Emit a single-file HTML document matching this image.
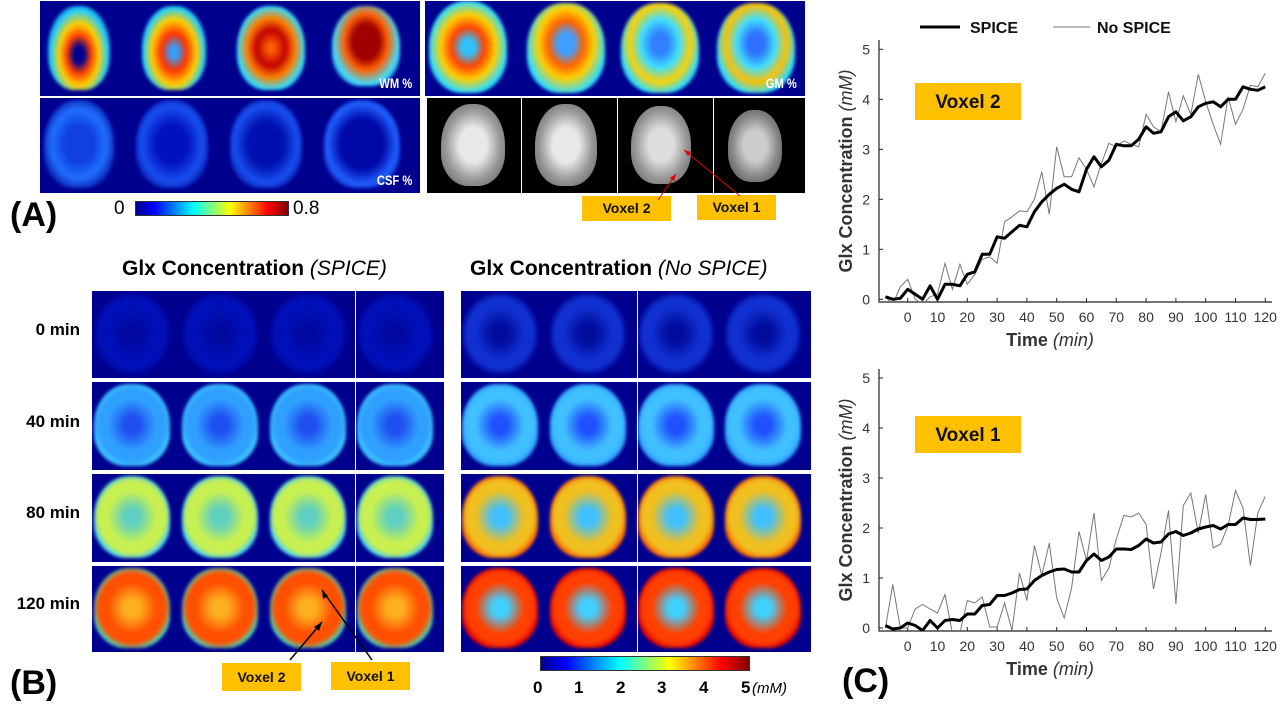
<!DOCTYPE html>
<html><head><meta charset="utf-8">
<style>
body{margin:0;width:1285px;height:709px;background:#fff;position:relative;overflow:hidden;font-family:"Liberation Sans",sans-serif}
.abs{position:absolute}
.panel{position:absolute;background:#00008f;overflow:hidden}
.brain{position:absolute;border-radius:46% 46% 42% 42%/50% 50% 40% 40%;filter:blur(1.5px)}
.lbl{position:absolute;color:#fff;font-weight:bold;font-size:14px;transform:scaleX(.8);transform-origin:right}
.vbox{position:absolute;background:#ffc000;font-weight:bold;font-size:15px;text-align:center;color:#111}
.big{position:absolute;font-weight:bold;font-size:34px}
.row{position:absolute;font-weight:bold;font-size:17px;text-align:right;width:70px}
.sep{position:absolute;background:#fff;width:1px}
</style></head><body>
<!-- Panel A -->
<div class="panel" style="left:40px;top:1px;width:380px;height:95px">
 <div class="brain" style="left:8px;top:5px;width:62px;height:84px;background:radial-gradient(ellipse at 50% 58%,#00008f 12%,#ff4000 28%,#ffd000 45%,#20d0ff 65%,#00008f 88%)"></div>
 <div class="brain" style="left:102px;top:5px;width:64px;height:84px;background:radial-gradient(ellipse at 50% 55%,#30a0ff 8%,#ff3000 28%,#ffd000 50%,#20d0ff 68%,#00008f 90%)"></div>
 <div class="brain" style="left:197px;top:5px;width:68px;height:84px;background:radial-gradient(ellipse at 50% 50%,#ff6000 6%,#c00000 30%,#ff8000 50%,#30e0ff 70%,#00008f 92%)"></div>
 <div class="brain" style="left:292px;top:5px;width:68px;height:80px;background:radial-gradient(ellipse at 50% 45%,#a00000 28%,#ff6000 45%,#40e0ff 68%,#00008f 92%)"></div>
 <div class="lbl" style="right:8px;top:74px">WM %</div>
</div>
<div class="panel" style="left:425px;top:1px;width:380px;height:95px">
 <div class="brain" style="left:4px;top:0;width:78px;height:92px;background:radial-gradient(ellipse at 50% 50%,#30c0ff 12%,#ff4000 30%,#ffd000 50%,#30e0ff 70%,#00008f 92%)"></div>
 <div class="brain" style="left:102px;top:2px;width:78px;height:90px;background:radial-gradient(ellipse at 50% 45%,#40a0ff 15%,#ff6000 32%,#ffd000 50%,#30e0ff 72%,#00008f 94%)"></div>
 <div class="brain" style="left:196px;top:2px;width:78px;height:90px;background:radial-gradient(ellipse at 50% 45%,#3080ff 15%,#40e0ff 35%,#ffd000 55%,#30e0ff 72%,#00008f 94%)"></div>
 <div class="brain" style="left:292px;top:2px;width:78px;height:90px;background:radial-gradient(ellipse at 50% 45%,#3070ff 15%,#40e0ff 35%,#ffc000 55%,#30e0ff 72%,#00008f 94%)"></div>
 <div class="lbl" style="right:8px;top:74px">GM %</div>
</div>
<div class="panel" style="left:40px;top:98px;width:380px;height:95px">
 <div class="brain" style="left:4px;top:2px;width:70px;height:88px;background:radial-gradient(ellipse at 50% 50%,#1040e0 30%,#2070ff 55%,#00008f 85%)"></div>
 <div class="brain" style="left:96px;top:2px;width:72px;height:88px;background:radial-gradient(ellipse at 50% 50%,#0010c0 30%,#1850f0 60%,#00008f 88%)"></div>
 <div class="brain" style="left:190px;top:2px;width:72px;height:88px;background:radial-gradient(ellipse at 50% 50%,#0010b0 35%,#1850f0 62%,#00008f 88%)"></div>
 <div class="brain" style="left:284px;top:2px;width:76px;height:88px;background:radial-gradient(ellipse at 50% 50%,#0008a8 40%,#2060ff 65%,#00008f 88%)"></div>
 <div class="lbl" style="right:8px;top:74px">CSF %</div>
</div>
<div class="abs" style="left:427px;top:98px;width:378px;height:95px;background:#000">
 <div class="brain" style="left:14px;top:6px;width:64px;height:82px;background:radial-gradient(ellipse,#e8e8e8 30%,#999 60%,#777 80%);filter:none"></div>
 <div class="brain" style="left:108px;top:6px;width:62px;height:82px;background:radial-gradient(ellipse,#e8e8e8 30%,#999 60%,#777 80%);filter:none"></div>
 <div class="brain" style="left:204px;top:8px;width:60px;height:78px;background:radial-gradient(ellipse,#ddd 30%,#999 60%,#777 80%);filter:none"></div>
 <div class="brain" style="left:301px;top:12px;width:54px;height:72px;background:radial-gradient(ellipse,#ccc 30%,#888 60%,#666 80%);filter:none"></div>
 <div class="sep" style="left:94px;top:0;height:95px"></div>
 <div class="sep" style="left:190px;top:0;height:95px"></div>
 <div class="sep" style="left:286px;top:0;height:95px"></div>
</div>
<div class="abs" style="left:135px;top:201px;width:152px;height:13px;border:1px solid #333;background:linear-gradient(90deg,#00008f,#0000ff 12%,#00ffff 38%,#ffff00 62%,#ff0000 87%,#800000)"></div>
<div class="abs" style="left:114px;top:198px;font-size:19px">0</div>
<div class="abs" style="left:293px;top:198px;font-size:19px">0.8</div>
<div class="big" style="left:10px;top:196px">(A)</div>
<div class="vbox" style="left:582px;top:196px;width:89px;height:25px;line-height:25px;font-size:14px">Voxel 2</div>
<div class="vbox" style="left:697px;top:195px;width:79px;height:25px;line-height:25px;font-size:14px">Voxel 1</div>

<!-- Panel B -->
<div class="abs" style="left:122px;top:257px;font-size:21px;font-weight:bold">Glx Concentration <i style="font-weight:normal">(SPICE)</i></div>
<div class="abs" style="left:470px;top:257px;font-size:21px;font-weight:bold">Glx Concentration <i style="font-weight:normal">(No SPICE)</i></div>
<div class="row" style="left:10px;top:320px">0 min</div>
<div class="row" style="left:10px;top:412px">40 min</div>
<div class="row" style="left:10px;top:503px">80 min</div>
<div class="row" style="left:10px;top:594px">120 min</div>
<div id="gridB"></div>
<div class="abs" style="left:540px;top:656px;width:208px;height:13px;border:1px solid #333;background:linear-gradient(90deg,#00008f,#0000ff 12%,#00ffff 38%,#ffff00 62%,#ff0000 87%,#800000)"></div>
<div class="abs" style="left:533px;top:678px;font-size:17px;font-weight:bold;width:260px">
 <span class="abs" style="left:0">0</span><span class="abs" style="left:41px">1</span><span class="abs" style="left:83px">2</span><span class="abs" style="left:124px">3</span><span class="abs" style="left:166px">4</span><span class="abs" style="left:208px">5</span><span class="abs" style="left:219px;font-weight:normal;font-style:italic;font-size:15px;top:2px">(mM)</span>
</div>
<div class="big" style="left:10px;top:664px">(B)</div>
<div class="vbox" style="left:222px;top:663px;width:79px;height:28px;line-height:28px;font-size:14px">Voxel 2</div>
<div class="vbox" style="left:331px;top:662px;width:79px;height:28px;line-height:28px;font-size:14px">Voxel 1</div>

<!-- Panel C -->
<svg id="chart" class="abs" style="left:0;top:0" width="1285" height="709"></svg>
<div class="big" style="left:842px;top:662px">(C)</div>
<svg class="abs" style="left:0;top:0" width="820" height="709">
 <line x1="658" y1="200" x2="676" y2="174" stroke="#e00000" stroke-width="1"/>
 <polygon points="676,174 670,178 674,181" fill="#e00000"/>
 <line x1="740" y1="196" x2="684" y2="150" stroke="#e00000" stroke-width="1"/>
 <polygon points="684,150 688,156 691,152" fill="#e00000"/>
 <line x1="290" y1="660" x2="322" y2="622" stroke="#000" stroke-width="1.5"/>
 <polygon points="322,622 314,627 319,631" fill="#000"/>
 <line x1="372" y1="660" x2="322" y2="590" stroke="#000" stroke-width="1.5"/>
 <polygon points="322,590 323,599 328,596" fill="#000"/>
</svg>

<script>
// Panel B grid
const rowsY=[291,382,474,566];
const rowH=[87,88,88,86];
const rowFill=[
 ['#0008a0','#0010b8','#00008f'],
 ['#2050f0','#30a0ff','#40d0ff'],
 ['#60d0c0','#c8f050','#40d0ff'],
 ['#ffb020','#ff5000','#40e0c0']];
const rowFillN=[
 ['#000c9c','#1030d0','#00008f'],
 ['#2050ff','#40c0ff','#30a0ff'],
 ['#40c0ff','#f0c020','#ff6000'],
 ['#40d0ff','#ff4000','#e00000']];
const gridB=document.getElementById('gridB');
function mkPanel(left,w,r,fills,sepX,nm){
 const p=document.createElement('div');
 p.className='panel';
 
 
 p.style.cssText=`left:${left}px;top:${rowsY[r]}px;width:${w}px;height:${rowH[r]}px`;
 const cx=nm.startsWith('spice')?[40,128,216,303]:[39,127,215,302];
 cx.forEach((c,i)=>{
  const b=document.createElement('div');
  b.className='brain';
  const f=fills[r];
  b.style.cssText=`left:${c-38}px;top:2px;width:76px;height:${rowH[r]-6}px;background:radial-gradient(ellipse at 50% 50%,${f[0]} 15%,${f[1]} 45%,${r==0?f[1]:f[1]} 62%,${f[2]} 74%,#00008f 80%);`;
  p.appendChild(b);
 });
 const s=document.createElement('div');s.className='sep';s.style.cssText=`left:${sepX}px;top:0;height:${rowH[r]}px`;p.appendChild(s);
 gridB.appendChild(p);
}
for(let r=0;r<4;r++){mkPanel(92,352,r,rowFill,263,'spice-row-'+r);mkPanel(461,350,r,rowFillN,176,'nospice-row-'+r);}

// Chart data
const times=[-7.5,-5,-2.5,0,2.5,5,7.5,10,12.5,15,17.5,20,22.5,25,27.5,30,32.5,35,37.5,40,42.5,45,47.5,50,52.5,55,57.5,60,62.5,65,67.5,70,72.5,75,77.5,80,82.5,85,87.5,90,92.5,95,97.5,100,102.5,105,107.5,110,112.5,115,117.5,120];
const v2Spice=[0.05,0,0.02,0.2,0.1,0,0.27,0,0.3,0.3,0.27,0.5,0.55,0.9,0.9,1.25,1.22,1.35,1.48,1.45,1.75,1.95,2.1,2.22,2.3,2.2,2.15,2.6,2.85,2.65,2.78,3.1,3.07,3.07,3.2,3.45,3.32,3.35,3.65,3.75,3.57,3.65,3.85,3.92,3.95,3.85,4.0,4.0,4.25,4.2,4.18,4.25];
const v2NoSpice=[0.05,-0.1,0.25,0.4,0,-0.1,0.05,0.1,0.72,0.2,0.7,0.3,0.5,0.8,0.85,0.72,1.55,1.65,1.77,1.75,2.0,2.55,1.7,3.05,2.45,2.45,2.83,2.6,2.25,2.72,3.12,3.05,3.17,3.1,3.05,3.7,3.45,3.35,4.15,3.55,4.07,3.7,4.5,3.95,3.5,3.1,4.05,3.5,3.8,4.28,4.25,4.52];
const v1Spice=[0.05,-0.02,0,0.1,0.05,-0.05,0.15,0,0.15,0.17,0.15,0.28,0.28,0.45,0.47,0.65,0.65,0.7,0.77,0.78,0.95,1.05,1.12,1.17,1.18,1.12,1.12,1.35,1.48,1.35,1.42,1.58,1.58,1.57,1.65,1.78,1.7,1.72,1.88,1.93,1.85,1.9,1.98,2.02,2.05,1.98,2.07,2.07,2.2,2.17,2.17,2.18];
const v1NoSpice=[0,0.87,0,0,0.38,0.47,0.38,0.3,0.67,-0.1,-0.1,0.55,0.5,0.62,0.02,0.02,0.5,-0.05,1.1,0.55,1.65,1.05,1.7,0.6,0.2,0.8,1.93,1.35,2.3,0.95,1.2,1.78,2.25,2.22,2.3,2.07,0.78,1.5,2.35,0.48,2.45,2.7,1.9,2.67,1.6,1.68,2.05,2.75,2.4,1.25,2.3,2.63];
const xTicks=[0,10,20,30,40,50,60,70,80,90,100,110,120];
const yTicks=[0,1,2,3,4,5];

const svg=document.getElementById('chart');
const NS='http://www.w3.org/2000/svg';
function el(t,a,txt){const e=document.createElementNS(NS,t);for(const k in a)e.setAttribute(k,a[k]);if(txt!==undefined)e.textContent=txt;svg.appendChild(e);return e;}
function xS(t){return 907.7+t*2.98;}
function drawChart(y0,axisY,top,spice,nospice,label,boxY,nm){
 const yS=v=>y0-v*50;
 const g=document.createElementNS(NS,'clipPath');g.setAttribute('id','clip'+nm);
 const cr=document.createElementNS(NS,'rect');cr.setAttribute('x',880);cr.setAttribute('y',top);cr.setAttribute('width',395);cr.setAttribute('height',axisY-top);g.appendChild(cr);svg.appendChild(g);
 const ax=el('path',{d:`M879 ${top} V${axisY} H1272`,stroke:'#222','stroke-width':1.2,fill:'none'});
 
 
 yTicks.forEach(v=>{
  el('line',{x1:879,x2:883,y1:yS(v),y2:yS(v),stroke:'#222'});
  const t=el('text',{x:870,y:yS(v)+5,'text-anchor':'end','font-size':14,fill:'#333'},v);
  
  
 });
 xTicks.forEach(v=>{
  el('line',{x1:xS(v),x2:xS(v),y1:axisY,y2:axisY-4,stroke:'#222'});
  const t=el('text',{x:xS(v),y:axisY+20,'text-anchor':'middle','font-size':14,fill:'#333'},v);
  
  
 });
 const pts=a=>a.map((v,i)=>xS(times[i]).toFixed(1)+','+yS(v).toFixed(1)).join(' ');
 const l2=el('polyline',{points:pts(nospice),fill:'none',stroke:'#777','stroke-width':1,'clip-path':`url(#clip${nm})`});
 
 
 const l1=el('polyline',{points:pts(spice),fill:'none',stroke:'#000','stroke-width':3,'stroke-linejoin':'round','clip-path':`url(#clip${nm})`});
 
 
 const xt=el('text',{x:1050,y:axisY+44,'text-anchor':'middle','font-size':18,'font-weight':'bold',fill:'#333'});
 xt.innerHTML='Time <tspan font-style="italic" font-weight="normal">(min)</tspan>';
 
 
 const cy=(top+axisY)/2;
 const yt=el('text',{x:0,y:0,transform:`translate(852 ${cy}) rotate(-90)`,'text-anchor':'middle','font-size':18,'font-weight':'bold',fill:'#333'});
 yt.innerHTML='Glx Concentration <tspan font-style="italic" font-weight="normal">(mM)</tspan>';
 
 
 const r=el('rect',{x:915,y:boxY,width:106,height:37,fill:'#ffc000'});
 
 
 el('text',{x:968,y:boxY+25,'text-anchor':'middle','font-size':19,'font-weight':'bold',fill:'#111'},label);
}
drawChart(299.3,302,40,v2Spice,v2NoSpice,'Voxel 2',83,'voxel2-chart');
drawChart(628,631,369,v1Spice,v1NoSpice,'Voxel 1',416,'voxel1-chart');
// legend
const lg1=el('line',{x1:920,x2:960,y1:27,y2:27,stroke:'#000','stroke-width':3});


el('text',{x:970,y:33,'font-size':16,'font-weight':'bold',fill:'#111'},'SPICE');
const lg2=el('line',{x1:1053,x2:1090,y1:27,y2:27,stroke:'#777','stroke-width':1});


el('text',{x:1097,y:33,'font-size':16,'font-weight':'bold',fill:'#111'},'No SPICE');
</script>
</body></html>
